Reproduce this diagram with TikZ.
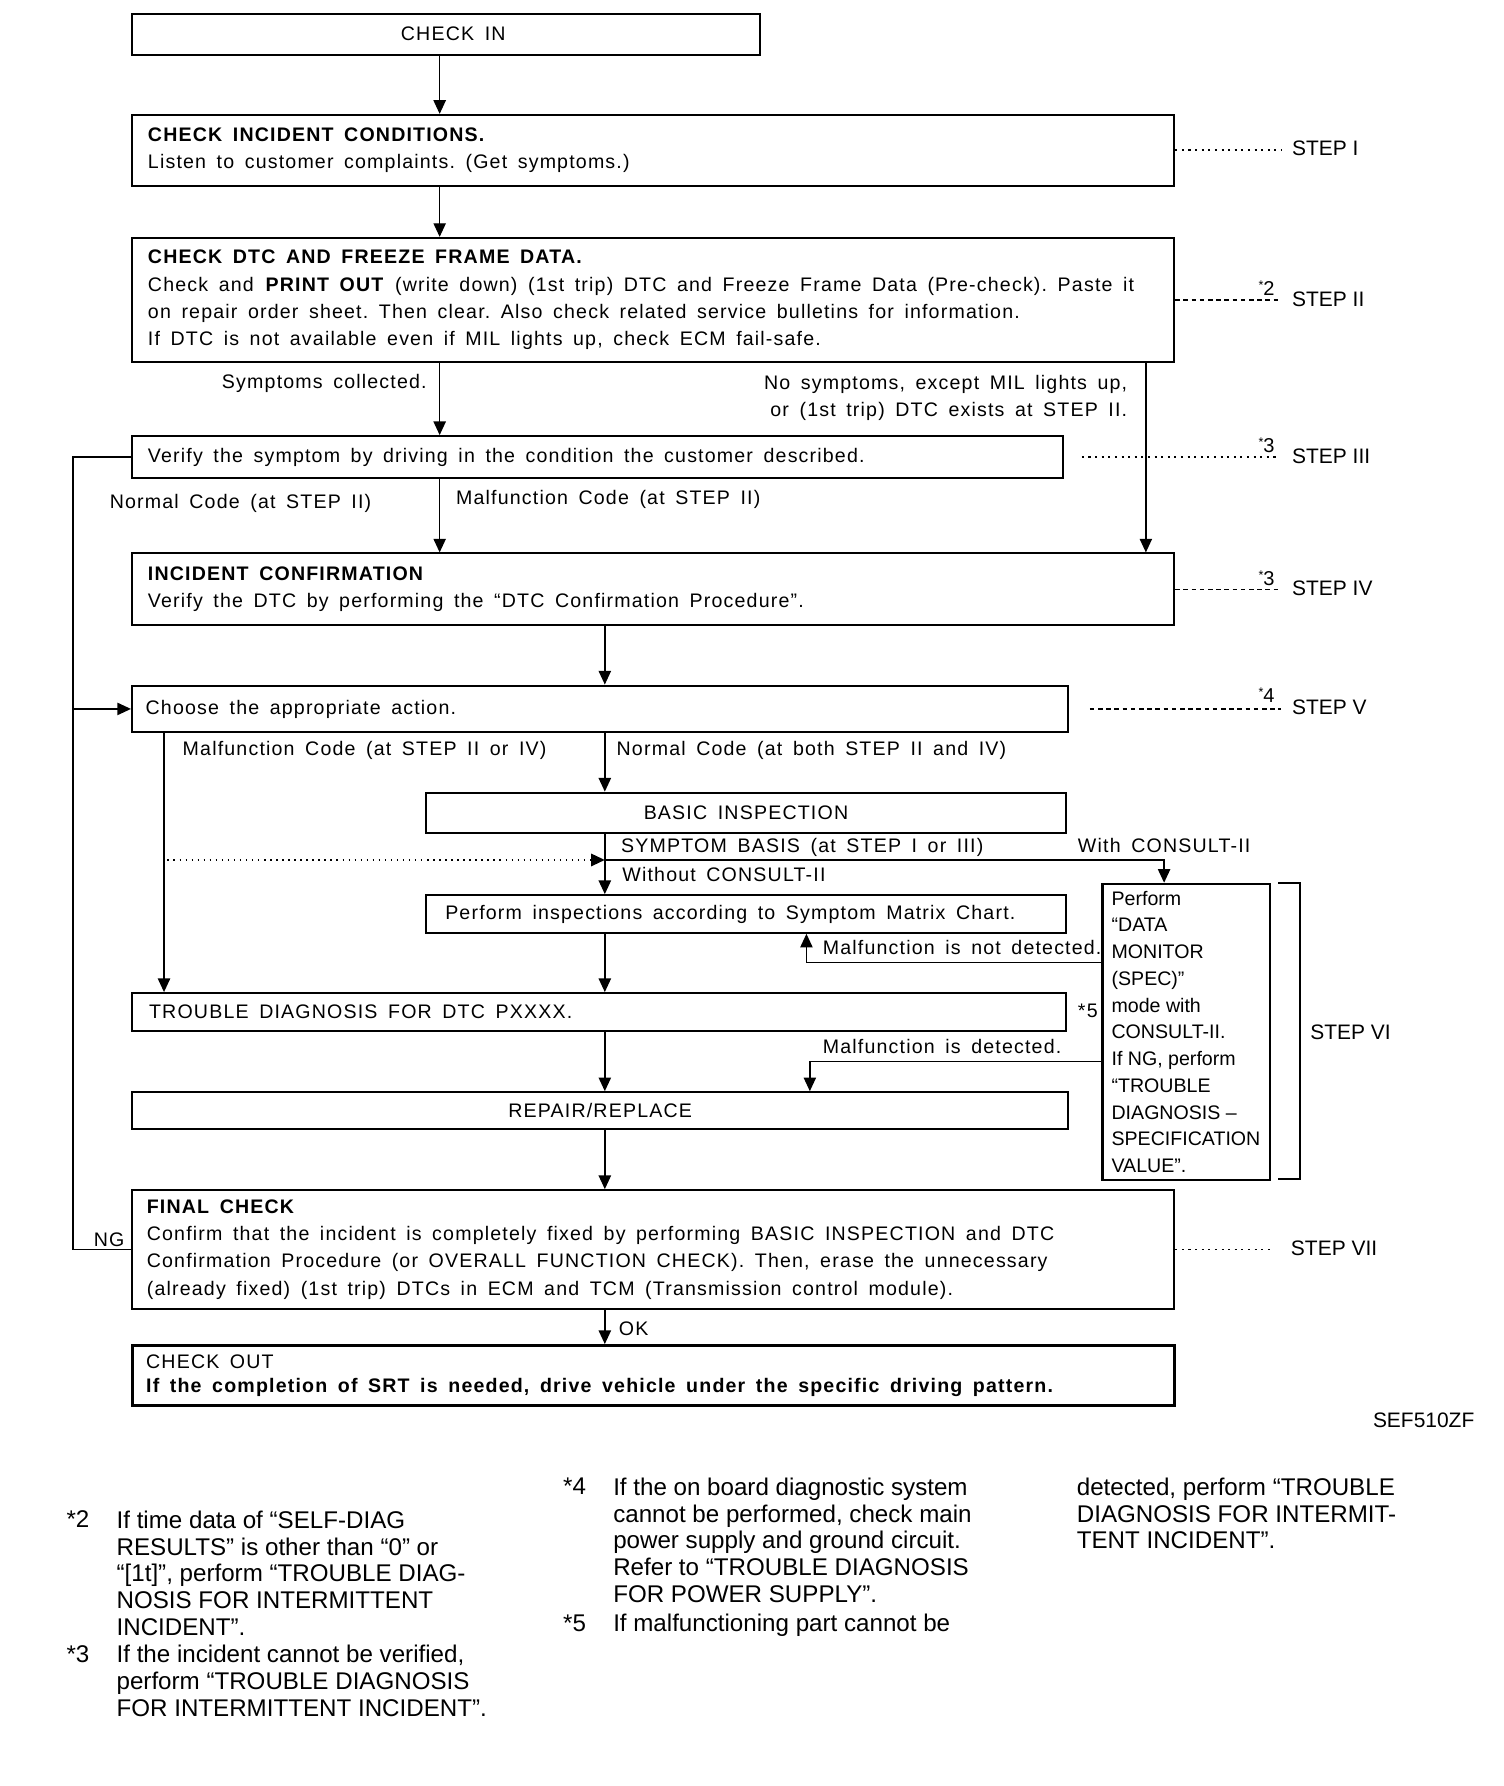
\documentclass[tikz,border=0pt]{standalone}
\usepackage{fontspec}
\setmainfont{Liberation Sans}[LetterSpace=6, WordSpace=1.6]
\newfontfamily\fnfont{Liberation Sans}
\usetikzlibrary{arrows.meta}
\newcommand\mainsz{\fontsize{8.6}{12}\selectfont}
\newcommand\fnsz{\fnfont\fontsize{10.6}{11.75}\selectfont\lineskiplimit=-20pt}
\newcommand\astmark[1]{\raisebox{2.6pt}{\fontsize{5.5}{5.5}\selectfont *}#1}
\begin{document}
\frenchspacing
\begin{tikzpicture}[x=0.5pt,y=-0.5pt,
  font=\mainsz,
  box/.style={draw, line width=0.9pt, inner xsep=7pt, inner ysep=0pt, anchor=north west, align=left,
              execute at begin node={\spaceskip=\fontdimen2\font\relax\xspaceskip=\spaceskip}},
  boxc/.style={box, align=center},
  arr/.style={line width=0.65pt, -{Triangle[length=6pt,width=5.4pt]}},
  ln/.style={line width=0.65pt},
  lbl/.style={inner sep=0pt, anchor=west, text height=6.2pt, text depth=0pt},
  lblr/.style={lbl, anchor=east},
  steplbl/.style={lbl, font=\fnfont\fontsize{9.2}{11}\selectfont},
  stepdot/.style={line width=0.9pt, dotted},
  stepdash/.style={line width=0.5pt, dash pattern=on 2pt off 1.6pt},
  ast/.style={inner sep=0pt, font=\fnfont\fontsize{8.8}{9}\selectfont},
  fn/.style={inner sep=0pt, anchor=north west, align=left, font=\fnsz}
]
\useasboundingbox (0,0) rectangle (1320,1568);

% ---------------- boxes
\node[boxc, text width=261.5pt, minimum height=18pt] (checkin) at (115,11) {\hspace*{6.5pt}CHECK IN};
\node[box, text width=443.5pt, minimum height=31pt] (cond) at (115,100)
  {\textbf{CHECK INCIDENT CONDITIONS.}\\Listen to customer complaints. (Get symptoms.)};
\node[box, text width=443.5pt, minimum height=54.5pt] (dtc) at (115,208)
  {\textbf{CHECK DTC AND FREEZE FRAME DATA.}\\
   Check and \textbf{PRINT OUT} (write down) (1st trip) DTC and Freeze Frame Data (Pre-check). Paste it\\
   on repair order sheet. Then clear. Also check related service bulletins for information.\\
   If DTC is not available even if MIL lights up, check ECM fail-safe.};
\node[box, text width=394.5pt, minimum height=18.5pt] (verify) at (115,382)
  {Verify the symptom by driving in the condition the customer described.};
\node[box, text width=443.5pt, minimum height=31.5pt] (incident) at (115,485)
  {\textbf{INCIDENT CONFIRMATION}\\Verify the DTC by performing the “DTC Confirmation Procedure”.};
\node[box, inner xsep=6pt, text width=399pt, minimum height=20.5pt] (choose) at (115,601)
  {Choose the appropriate action.};
\node[boxc, text width=267pt, minimum height=17.5pt] (basic) at (373,695) {BASIC INSPECTION};
\node[box, inner xsep=8.5pt, text width=264pt, minimum height=16.5pt] (perform) at (373,785)
  {Perform inspections according to Symptom Matrix Chart.};
\node[box, inner xsep=7.5pt, text width=395pt, minimum height=16.5pt] (trouble) at (115,871)
  {TROUBLE DIAGNOSIS FOR DTC PXXXX.};
\node[box, inner xsep=4pt, text width=65.5pt, minimum height=130pt, font=\fnfont\fontsize{8.6}{11.75}\selectfont] (monitor) at (967,775)
  {Perform\\“DATA\\MONITOR\\(SPEC)”\\mode with\\CONSULT-II.\\If NG, perform\\“TROUBLE\\DIAGNOSIS –\\SPECIFICATION\\VALUE”.};
\node[boxc, text width=397pt, minimum height=16pt] (repair) at (115,958) {REPAIR/REPLACE};
\node[box, inner xsep=6.5pt, text width=444.5pt, minimum height=52pt] (final) at (115,1044)
  {\textbf{FINAL CHECK}\\
   Confirm that the incident is completely fixed by performing BASIC INSPECTION and DTC\\
   Confirmation Procedure (or OVERALL FUNCTION CHECK). Then, erase the unnecessary\\
   (already fixed) (1st trip) DTCs in ECM and TCM (Transmission control module).};
\node[box, line width=1.3pt, inner xsep=6pt, text width=445.5pt, minimum height=26.5pt, font=\fontsize{8.6}{10.5}\selectfont] (checkout) at (115,1180)
  {CHECK OUT\\\textbf{If the completion of SRT is needed, drive vehicle under the specific driving pattern.}};

% ---------------- connectors
\draw[arr] (386,0 |- checkin.south) -- (386,0 |- cond.north);
\draw[arr] (386,0 |- cond.south) -- (386,0 |- dtc.north);
\draw[arr] (386,0 |- dtc.south) -- (386,0 |- verify.north);
\draw[arr] (1006,0 |- dtc.south) -- (1006,0 |- incident.north);
\draw[arr] (386,0 |- verify.south) -- (386,0 |- incident.north);
\draw[ln] (verify.west) -- (64,0 |- verify.west) -- (64,0 |- final.west) -- (final.west);
\draw[arr] (64,0 |- choose.west) -- (choose.west);
\draw[arr] (531,0 |- incident.south) -- (531,0 |- choose.north);
\draw[arr] (144,0 |- choose.south) -- (144,0 |- trouble.north);
\draw[arr] (531,0 |- choose.south) -- (531,0 |- basic.north);
\coordinate (j1) at (531,755);
\coordinate (d0) at (147,755);
\draw[arr] (531,0 |- basic.south) -- (531,0 |- perform.north);
\draw[arr] (j1) -- (1022,755) -- (1022,0 |- monitor.north);
\draw[arr, dotted, line width=0.9pt] (d0) -- (j1);
\draw[arr] (531,0 |- perform.south) -- (531,0 |- trouble.north);
\draw[arr] (monitor.west |- 0,845) -- (708,845) -- (708,0 |- perform.south);
\draw[arr] (monitor.west |- 0,932) -- (711,932) -- (711,0 |- repair.north);
\draw[arr] (531,0 |- trouble.south) -- (531,0 |- repair.north);
\draw[arr] (531,0 |- repair.south) -- (531,0 |- final.north);
\draw[arr] (531,0 |- final.south) -- (531,0 |- checkout.north);

% ---------------- step markers
\draw[stepdot] (cond.east) -- (1125,0 |- cond.east);
\draw[stepdash] (dtc.east) -- (1125,0 |- dtc.east);
\draw[stepdot, line width=0.7pt] ([xshift=8pt]verify.east) -- (1120,0 |- verify.east);
\draw[stepdash] (incident.east) -- (1125,0 |- incident.east);
\draw[stepdash] ([xshift=9pt]choose.east) -- (1125,0 |- choose.east);
\draw[stepdot, line width=0.6pt] (final.east) -- (1118,0 |- final.east);
\draw[line width=0.9pt] (1122,775) -- (1141,775) -- (1141,1035) -- (1122,1035);

\node[steplbl] (s1) at (1134,130) {STEP I};
\node[steplbl] (s2) at (1134,263) {STEP II};
\node[steplbl] (s3) at (1134,401) {STEP III};
\node[steplbl] (s4) at (1134,517) {STEP IV};
\node[steplbl] (s5) at (1134,621) {STEP V};
\node[steplbl] (s6) at (1150,906) {STEP VI};
\node[steplbl] (s7) at (1133,1096) {STEP VII};
\node[ast] (a2) at (1112,253) {\astmark{2}};
\node[ast] (a3) at (1112,391) {\astmark{3}};
\node[ast] (a3b) at (1112,508) {\astmark{3}};
\node[ast] (a4) at (1112,610) {\astmark{4}};
\node[lbl] (a5) at (946,887) {*5};

% ---------------- connector labels
\node[lblr] (symcol) at (375,335) {Symptoms collected.};
\node[inner sep=0pt, anchor=north east, align=right, execute at begin node={\spaceskip=\fontdimen2\font\relax}] (nosym) at (990,329)
  {No symptoms, except MIL lights up,\\or (1st trip) DTC exists at STEP II.};
\node[lbl] (nc1) at (96,440) {Normal Code (at STEP II)};
\node[lbl] (mc1) at (400,437) {Malfunction Code (at STEP II)};
\node[lbl] (mc2) at (160,657) {Malfunction Code (at STEP II or IV)};
\node[lbl] (nc2) at (541,657) {Normal Code (at both STEP II and IV)};
\node[lbl] (symb) at (545,742) {SYMPTOM BASIS (at STEP I or III)};
\node[lbl] (withc) at (946,742) {With CONSULT-II};
\node[lbl] (woc) at (546,768) {Without CONSULT-II};
\node[lbl] (mnd) at (722,832) {Malfunction is not detected.};
\node[lbl] (md) at (722,919) {Malfunction is detected.};
\node[lbl] (ng) at (82,1088) {NG};
\node[lbl] (ok) at (543,1166) {OK};
\node[steplbl] (sef) at (1205,1247) {SEF510ZF};

% ---------------- footnotes
\node[fn] (f2m) at (58,1326) {*2};
\node[fn] (f2) at (102,1326) {If time data of “SELF-DIAG\\RESULTS” is other than “0” or\\“[1t]”, perform “TROUBLE DIAG-\\NOSIS FOR INTERMITTENT\\INCIDENT”.};
\node[fn] (f3m) at (58,1444) {*3};
\node[fn] (f3) at (102,1444) {If the incident cannot be verified,\\perform “TROUBLE DIAGNOSIS\\FOR INTERMITTENT INCIDENT”.};
\node[fn] (f4m) at (494,1297) {*4};
\node[fn] (f4) at (538,1297) {If the on board diagnostic system\\cannot be performed, check main\\power supply and ground circuit.\\Refer to “TROUBLE DIAGNOSIS\\FOR POWER SUPPLY”.};
\node[fn] (f5m) at (494,1417) {*5};
\node[fn] (f5) at (538,1417) {If malfunctioning part cannot be};
\node[fn] (f6) at (945,1297) {detected, perform “TROUBLE\\DIAGNOSIS FOR INTERMIT-\\TENT INCIDENT”.};
\end{tikzpicture}
\end{document}
